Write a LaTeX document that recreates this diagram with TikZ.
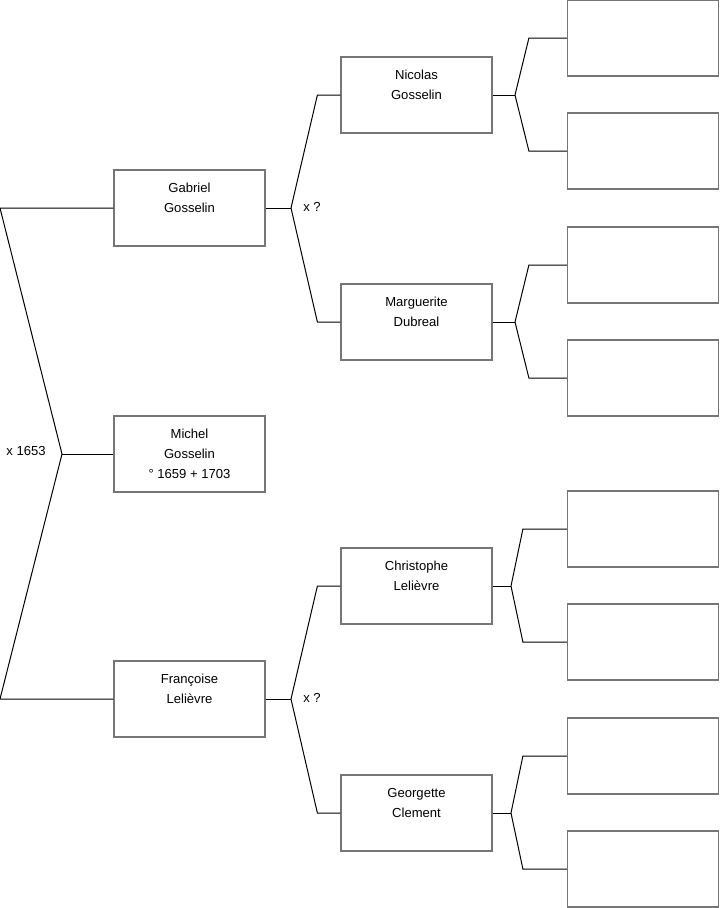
\documentclass[tikz,border=0pt]{standalone}
\usepackage{fontspec}
\setmainfont{Liberation Sans}
\usepackage{tikz}
\usetikzlibrary{positioning,calc}
\definecolor{boxgray}{HTML}{767676}
\tikzset{
  person/.style={rectangle, draw=boxgray, fill=white, line width=0.9pt, minimum width=113.25pt, minimum height=57pt, inner sep=0pt, align=center, font=\fontsize{9.8}{15}\selectfont},
  blank/.style={person},
  link/.style={draw=black, line width=0.75pt},
  union/.style={font=\fontsize{9.8}{11}\selectfont, inner sep=0pt},
}

\begin{document}
\begin{tikzpicture}[x=0.75pt,y=-0.75pt]
  \useasboundingbox (0,0) rectangle (719,908);
  % generation 1
  \node[person] (michel) at (189.5,454) {Michel\\Gosselin\\\textdegree{} 1659 + 1703};
  % generation 2
  \node[person] (gabriel) at (189.5,208) {Gabriel\\Gosselin\\\mbox{}};
  \node[person] (francoise) at (189.5,699) {Françoise\\Lelièvre\\\mbox{}};
  % generation 3
  \node[person] (nicolas) at (416.5,95) {Nicolas\\Gosselin\\\mbox{}};
  \node[person] (marguerite) at (416.5,322) {Marguerite\\Dubreal\\\mbox{}};
  \node[person] (christophe) at (416.5,586) {Christophe\\Lelièvre\\\mbox{}};
  \node[person] (georgette) at (416.5,813) {Georgette\\Clement\\\mbox{}};
  % generation 4 (unknown)
  \node[blank] (e1) at (643,38) {};
  \node[blank] (e2) at (643,151) {};
  \node[blank] (e3) at (643,265) {};
  \node[blank] (e4) at (643,378) {};
  \node[blank] (e5) at (643,529) {};
  \node[blank] (e6) at (643,642) {};
  \node[blank] (e7) at (643,756) {};
  \node[blank] (e8) at (643,869) {};

  % fork points
  \coordinate (ftop) at (0,208);
  \coordinate (fmid) at (62,454);
  \coordinate (fbot) at (0,699);
  \coordinate (fgab) at (291,208);
  \coordinate (ffra) at (291,699);
  \coordinate (fnic) at (515,95);
  \coordinate (fmar) at (515,322);
  \coordinate (fchr) at (511,586);
  \coordinate (fgeo) at (511,813);

  % parents of Michel
  \draw[link] (gabriel.west) -- (ftop) -- (fmid) -- (fbot) -- (francoise.west);
  \draw[link] (fmid) -- (michel.west);
  \node[union] (m1) at (26,451) {x 1653};
  % parents of Gabriel
  \draw[link] (gabriel.east) -- (fgab);
  \draw[link] (fgab) -- ([xshift=-17.25pt]nicolas.west) -- (nicolas.west);
  \draw[link] (fgab) -- ([xshift=-17.25pt]marguerite.west) -- (marguerite.west);
  \node[union] (m2) at (312,207) {x ?};
  % parents of Françoise
  \draw[link] (francoise.east) -- (ffra);
  \draw[link] (ffra) -- ([xshift=-17.25pt]christophe.west) -- (christophe.west);
  \draw[link] (ffra) -- ([xshift=-17.25pt]georgette.west) -- (georgette.west);
  \node[union] (m3) at (312,698) {x ?};
  % next generation
  \draw[link] (nicolas.east) -- (fnic);
  \draw[link] (fnic) -- ([xshift=-28.5pt]e1.west) -- (e1.west);
  \draw[link] (fnic) -- ([xshift=-28.5pt]e2.west) -- (e2.west);
  \draw[link] (marguerite.east) -- (fmar);
  \draw[link] (fmar) -- ([xshift=-28.5pt]e3.west) -- (e3.west);
  \draw[link] (fmar) -- ([xshift=-28.5pt]e4.west) -- (e4.west);
  \draw[link] (christophe.east) -- (fchr);
  \draw[link] (fchr) -- ([xshift=-33pt]e5.west) -- (e5.west);
  \draw[link] (fchr) -- ([xshift=-33pt]e6.west) -- (e6.west);
  \draw[link] (georgette.east) -- (fgeo);
  \draw[link] (fgeo) -- ([xshift=-33pt]e7.west) -- (e7.west);
  \draw[link] (fgeo) -- ([xshift=-33pt]e8.west) -- (e8.west);
\end{tikzpicture}
\end{document}
